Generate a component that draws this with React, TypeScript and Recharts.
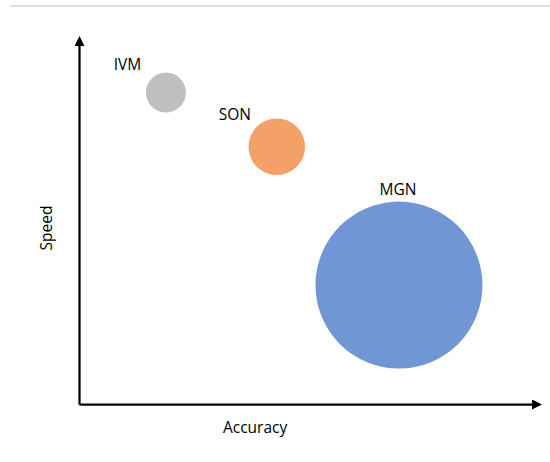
import React from 'react';
import { Scatter, ScatterChart, XAxis, YAxis, ZAxis } from 'recharts';

// Bubble chart: speed vs accuracy, bubble area = model size
const names = ['IVM', 'SON', 'MGN'];
const accuracy = [19.1, 43.6, 70.6];
const speed = [87.0, 71.9, 33.3];
const bubbleSize = [1.0, 2.0, 17.4];

const colors = ['#bfbfbf', '#f4a167', '#7196d4'];
// label position relative to bubble centre (px)
const labelOffsets: [number, number][] = [
  [-38.5, -27.7],
  [-42, -32.5],
  [-1, -96],
];

const FONT = '"Open Sans", "Noto Sans", sans-serif';
const FS = 15.5;

const makeBubble = (fill: string, dx: number, dy: number) => (props: any) => {
  const { cx, cy, width, size, payload } = props;
  const r = width ? width / 2 : Math.sqrt(size / Math.PI);
  return (
    <g>
      <circle cx={cx} cy={cy} r={r} fill={fill} />
      <text x={cx + dx} y={cy + dy} dy="0.355em" textAnchor="middle" fontFamily={FONT} fontSize={FS} fill="#000">
        {payload.name}
      </text>
    </g>
  );
};

const XLabel = (props: any) => {
  const vb = props.viewBox;
  return (
    <text x={vb.x + vb.width * 0.388} y={vb.y + 22.5} dy="0.355em" textAnchor="middle" fontFamily={FONT} fontSize={FS} fill="#000">
      Accuracy
    </text>
  );
};

const YLabel = (props: any) => {
  const vb = props.viewBox;
  const x = vb.x + vb.width / 2;
  const y = vb.y + vb.height / 2 + 2.75;
  return (
    <text x={x} y={y} dy="0.355em" textAnchor="middle" transform={`rotate(-90 ${x} ${y})`} fontFamily={FONT} fontSize={FS} fill="#000">
      Speed
    </text>
  );
};

const series = names.map((name, i) => ({
  name,
  data: [{ name, x: accuracy[i], y: speed[i], z: bubbleSize[i] }],
}));

export default function App() {
  return (
    <div style={{ position: 'absolute', left: 0, top: 0, width: 550, height: 462, background: '#fff' }}>
      <svg width={0} height={0} style={{ position: 'absolute' }}>
        <defs>
          <marker id="arrowHead" viewBox="0 0 10 10" refX="0" refY="5" markerWidth="11" markerHeight="10" markerUnits="userSpaceOnUse" orient="auto-start-reverse">
            <path d="M0,0 L10,5 L0,10 z" fill="#000" />
          </marker>
        </defs>
      </svg>
      <div style={{ position: 'absolute', left: 10, top: 5, width: 540, borderTop: '2px solid #dcdcdc' }} />
      <ScatterChart width={550} height={462} margin={{ top: 46, right: 18, bottom: 13.5, left: 13.5 }}>
        <XAxis
          type="number"
          dataKey="x"
          domain={[0, 100]}
          height={44}
          tick={false}
          tickLine={false}
          axisLine={{ stroke: '#000', strokeWidth: 2.25, markerEnd: 'url(#arrowHead)' }}
          label={<XLabel />}
        />
        <YAxis
          type="number"
          dataKey="y"
          domain={[0, 100]}
          width={66}
          tick={false}
          tickLine={false}
          axisLine={{ stroke: '#000', strokeWidth: 2.25, markerStart: 'url(#arrowHead)' }}
          label={<YLabel />}
        />
        <ZAxis type="number" dataKey="z" domain={[0, 17.4]} range={[0, Math.PI * 83.5 * 83.5]} />
        {series.map((s, i) => (
          <Scatter
            key={s.name}
            name={s.name}
            data={s.data}
            fill={colors[i]}
            isAnimationActive={false}
            shape={makeBubble(colors[i], labelOffsets[i][0], labelOffsets[i][1])}
          />
        ))}
      </ScatterChart>
    </div>
  );
}
